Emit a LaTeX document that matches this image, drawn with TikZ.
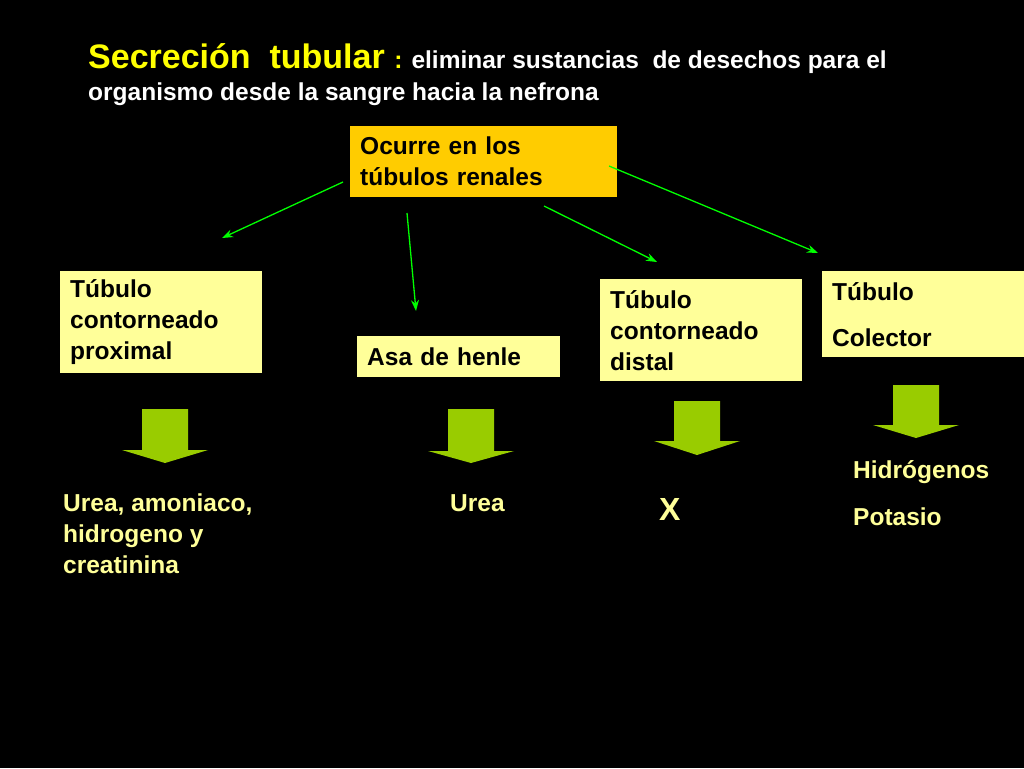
\documentclass[tikz,border=0pt]{standalone}
\usepackage{fontspec}
\setmainfont{Liberation Sans}
\usetikzlibrary{arrows.meta}
\definecolor{titleyellow}{RGB}{255,255,0}
\definecolor{paleyellow}{RGB}{255,255,153}
\definecolor{orangebox}{RGB}{255,204,0}
\definecolor{linegreen}{RGB}{0,255,0}
\definecolor{blockgreen}{RGB}{153,204,0}
\tikzset{
  tubbox/.style={fill=paleyellow, anchor=north west, align=left, inner xsep=10pt, inner ysep=6pt,
    font=\fontsize{24.5}{31}\selectfont\bfseries, text=black},
  result/.style={anchor=base west, text=paleyellow, font=\fontsize{24.5}{31}\selectfont\bfseries, inner sep=0pt},
  link/.style={draw=linegreen, line width=1.3pt, -{Stealth[length=11pt,width=8pt]}}
}
% block arrow pointing down: shaft left x, top y, shaft bottom y, tip y
\newcommand{\blockdown}[4]{%
  \fill[blockgreen] (#1,#2) -- ++(46,0) |- (#1+66,#3) -- (#1+23,#4) -- (#1-20,#3) -| cycle;}
\begin{document}
\begin{tikzpicture}[x=1pt,y=-1pt]
  \fill[black] (0,0) rectangle (1024,768);
  \useasboundingbox (0,0) rectangle (1024,768);
  % title
  \node[anchor=base west, inner sep=0pt, text=titleyellow, font=\bfseries] (title) at (88,68)
    {\fontsize{34}{40}\selectfont Secreción\ \ tubular \fontsize{24.5}{30}\selectfont: \textcolor{white}{eliminar sustancias\ \ de desechos para el}};
  \node[anchor=base west, inner sep=0pt, text=white, font=\fontsize{24.5}{30}\selectfont\bfseries] (title2) at (88,100)
    {organismo desde la sangre hacia la nefrona};
  % boxes
  \node[tubbox, fill=orangebox, minimum width=267pt, minimum height=71pt, text width=247pt] (top) at (350,126)
    {Ocurre en los\\túbulos renales};
  \node[tubbox, minimum width=202pt, minimum height=102pt, text width=182pt] (prox) at (60,271)
    {Túbulo\\contorneado\\proximal};
  \node[tubbox, minimum width=203pt, minimum height=41pt, text width=183pt, inner ysep=3pt] (asa) at (357,336)
    {Asa de henle};
  \node[tubbox, minimum width=202pt, minimum height=102pt, text width=182pt] (dist) at (600,279)
    {Túbulo\\contorneado\\distal};
  \node[tubbox, minimum width=202pt, minimum height=86pt, text width=182pt,
    font=\fontsize{24.5}{46}\selectfont\bfseries] (col) at (822,271)
    {Túbulo\\Colector};
  % connectors
  \coordinate (e1) at (222,238);
  \coordinate (e2) at (416,311);
  \coordinate (e3) at (657,262);
  \coordinate (e4) at (818,253);
  \draw[link] (343,182) -- (e1);
  \draw[link] (407,213) -- (e2);
  \draw[link] (544,206) -- (e3);
  \draw[link] (609,166) -- (e4);
  % block arrows
  \blockdown{142}{409}{450}{463}
  \blockdown{448}{409}{451}{463}
  \blockdown{674}{401}{441}{455}
  \blockdown{893}{385}{425}{438}
  % results
  \node[result] (rprox1) at (63,511) {Urea, amoniaco,};
  \node[result] (rprox2) at (63,542) {hidrogeno y};
  \node[result] (rprox3) at (63,573) {creatinina};
  \node[result] (rasa) at (450,511) {Urea};
  \node[result, font=\fontsize{32}{36}\selectfont\bfseries] (rdist) at (659,520) {X};
  \node[result] (rcol1) at (853,478) {Hidrógenos};
  \node[result] (rcol2) at (853,525) {Potasio};
\end{tikzpicture}
\end{document}
